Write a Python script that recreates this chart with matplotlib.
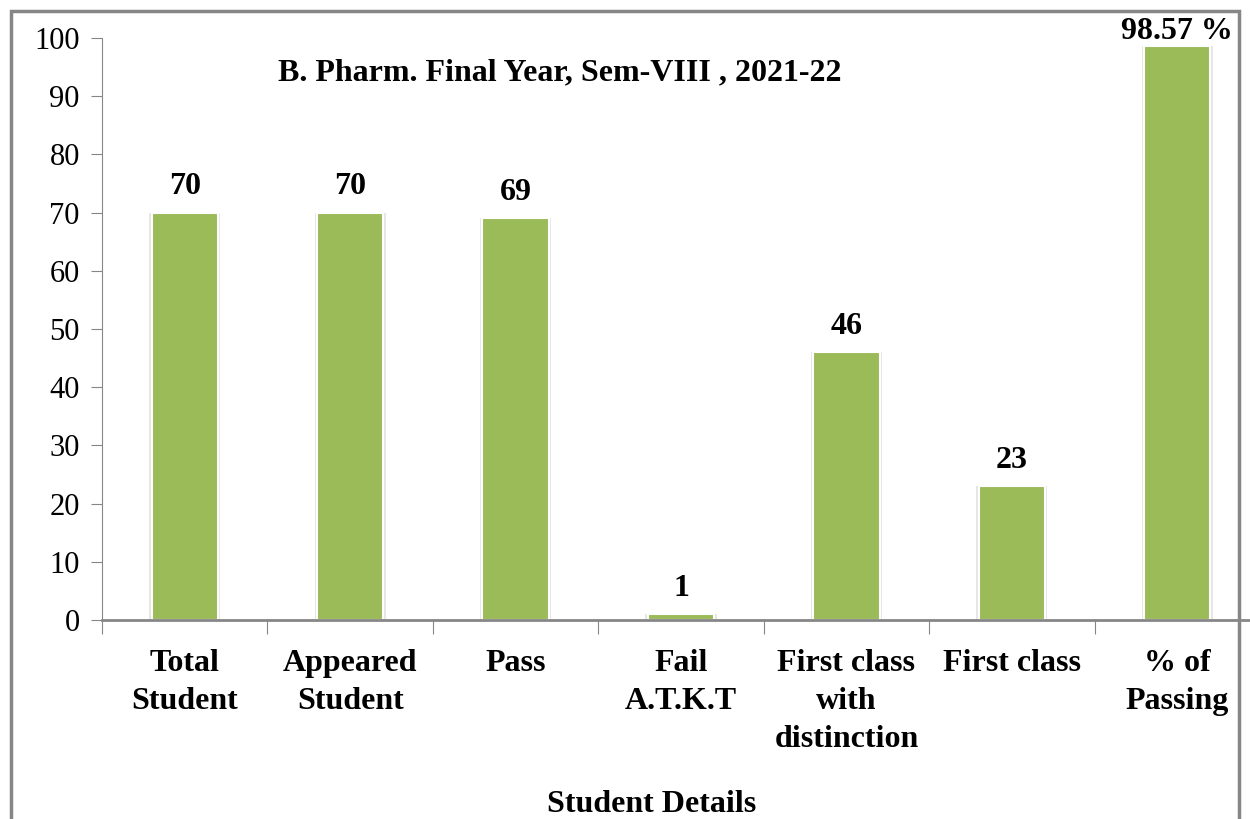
import matplotlib
matplotlib.use("Agg")
import matplotlib.pyplot as plt
from matplotlib.patches import Rectangle

categories = ["Total\nStudent", "Appeared\nStudent", "Pass", "Fail\nA.T.K.T",
              "First class\nwith\ndistinction", "First class", "% of\nPassing"]
values = [70, 70, 69, 1, 46, 23, 98.57]
value_labels = ["70", "70", "69", "1", "46", "23", "98.57 %"]

plt.rcParams["font.family"] = ["Liberation Serif", "DejaVu Serif"]
grey = "#868686"
green = "#9BBB59"

fig = plt.figure(figsize=(12.5, 8.19), dpi=100)
# outer frame
fig.add_artist(Rectangle((11 / 1250, -0.05), 1228 / 1250, 1 - 11 / 819 + 0.05,
                         transform=fig.transFigure, fill=False,
                         edgecolor=grey, linewidth=2.5))

ax = fig.add_axes([102 / 1250, 1 - 620 / 819, 1158 / 1250, 582 / 819])
x = list(range(len(categories)))
# soft shadow behind bars
ax.bar(x, values, width=0.43, color="#e6e6e6", zorder=1)
ax.bar(x, values, width=0.40, color=green, edgecolor="white", linewidth=1.5, zorder=2)

for xi, v, lab in zip(x, values, value_labels):
    off = 8 if v < 95 else 0
    ax.annotate(lab, (xi, v), xytext=(0, off), textcoords="offset points",
                ha="center", va="bottom", fontsize=23, fontweight="bold",
                annotation_clip=False)

ax.set_xlim(-0.5, 6.5)
ax.set_ylim(0, 100)
ax.set_yticks(range(0, 101, 10))
ax.tick_params(axis="y", direction="out", length=8, color=grey, labelsize=22, pad=8)
ax.set_xticks([i - 0.5 for i in range(len(categories))])
ax.set_xticklabels([])
ax.set_xticks(x, minor=True)
ax.set_xticklabels(categories, minor=True, fontsize=23, fontweight="bold", linespacing=1.4)
ax.tick_params(axis="x", which="major", direction="out", length=10, color=grey)
ax.tick_params(axis="x", which="minor", length=0, pad=21)
for lab in ax.get_xticklabels(minor=True):
    lab.set_verticalalignment("top")

for s in ["top", "right"]:
    ax.spines[s].set_visible(False)
ax.spines["left"].set_color(grey)
ax.spines["bottom"].set_color(grey)
ax.spines["bottom"].set_linewidth(2)

fig.text(560 / 1250, 1 - 73 / 819, "B. Pharm. Final Year, Sem-VIII , 2021-22",
         ha="center", va="center", fontsize=23, fontweight="bold")
fig.text(652 / 1250, 1 - 805 / 819, "Student Details",
         ha="center", va="center", fontsize=23, fontweight="bold")

fig.savefig("out.png", dpi=100)
